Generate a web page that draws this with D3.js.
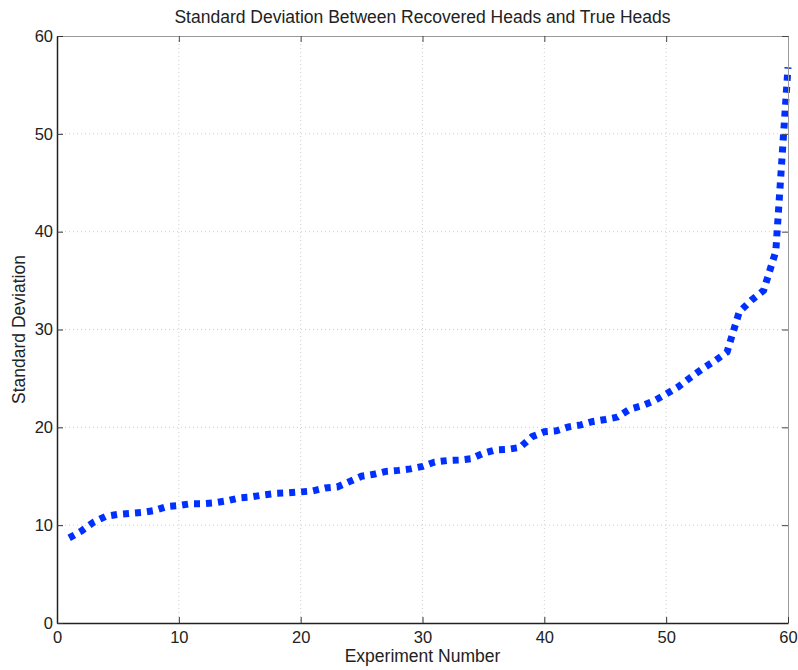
<!DOCTYPE html>
<html>
<head>
<meta charset="utf-8">
<script src="https://cdn.jsdelivr.net/npm/d3@7"></script>
<style>
    body { margin: 0; background: #fff; }
    svg text { font-family: "Liberation Sans", Arial, sans-serif; fill: #222; }
    .grid line { stroke: #cfcfcf; stroke-dasharray: 1,3; }
</style>
</head>
<body>
<div id="graph"></div>
<script>
var consts = {
    width: 798,
    height: 670,
    left: 57,
    right: 788,
    top: 36,
    bottom: 623
};

// experiment numbers 1..60 and the measured std deviation for each
var experiments = [1, 2, 3, 4, 5, 6, 7, 8, 9, 10, 11, 12, 13, 14, 15, 16, 17, 18, 19, 20,
    21, 22, 23, 24, 25, 26, 27, 28, 29, 30, 31, 32, 33, 34, 35, 36, 37, 38, 39, 40,
    41, 42, 43, 44, 45, 46, 47, 48, 49, 50, 51, 52, 53, 54, 55, 56, 57, 58, 59, 60];
var stdDev = [8.7, 9.4, 10.3, 10.9, 11.1, 11.2, 11.3, 11.5, 11.9, 12.0,
    12.2, 12.2, 12.3, 12.5, 12.8, 12.9, 13.1, 13.25, 13.3, 13.4,
    13.5, 13.8, 13.9, 14.45, 15.0, 15.2, 15.5, 15.6, 15.75, 16.0,
    16.45, 16.6, 16.65, 16.8, 17.35, 17.7, 17.75, 17.95, 19.05, 19.55,
    19.65, 20.05, 20.25, 20.6, 20.8, 21.05, 21.85, 22.2, 22.7, 23.4,
    24.15, 25.1, 26.0, 26.8, 27.7, 31.8, 33.0, 34.0, 38.0, 56.8];

var xTicks = [0, 10, 20, 30, 40, 50, 60];
var yTicks = [0, 10, 20, 30, 40, 50, 60];

var title = 'Standard Deviation Between Recovered Heads and True Heads';
var xLabel = 'Experiment Number';
var yLabel = 'Standard Deviation';

var vis = d3.select('#graph').append('svg')
    .attr('width', consts.width)
    .attr('height', consts.height);

var x = d3.scaleLinear().domain([0, 60]).range([consts.left, consts.right]);
var y = d3.scaleLinear().domain([0, 60]).range([consts.bottom, consts.top]);

// dotted grid
var grid = vis.append('g').attr('class', 'grid');
grid.selectAll('.gx')
    .data(xTicks.slice(1, -1))
    .enter().append('line')
    .attr('x1', function (d) { return x(d) })
    .attr('x2', function (d) { return x(d) })
    .attr('y1', consts.top)
    .attr('y2', consts.bottom);
grid.selectAll('.gy')
    .data(yTicks.slice(1, -1))
    .enter().append('line')
    .attr('y1', function (d) { return y(d) })
    .attr('y2', function (d) { return y(d) })
    .attr('x1', consts.left)
    .attr('x2', consts.right);

// the data line
var line = d3.line()
    .x(function (d, i) { return x(experiments[i]) })
    .y(function (d) { return y(d) });

vis.append('path')
    .datum(stdDev)
    .attr('d', line)
    .attr('fill', 'none')
    .attr('stroke', '#0030ff')
    .attr('stroke-width', 7)
    .attr('stroke-dasharray', '6,6');

var plotH = consts.bottom - consts.top;

// box: top/right in grey, ticks pointing inward
var topAxis = vis.append('g')
    .attr('transform', 'translate(0,' + consts.top + ')')
    .call(d3.axisTop(x).tickValues(xTicks).tickSizeInner(-6).tickSizeOuter(0).tickFormat(''));
var rightAxis = vis.append('g')
    .attr('transform', 'translate(' + consts.right + ',0)')
    .call(d3.axisRight(y).tickValues(yTicks).tickSizeInner(-6).tickSizeOuter(0).tickFormat(''));
[topAxis, rightAxis].forEach(function (a) {
    a.select('.domain').attr('stroke', '#999');
    a.selectAll('.tick line').attr('stroke', '#444');
});

var bottomAxis = vis.append('g')
    .attr('transform', 'translate(0,' + consts.bottom + ')')
    .call(d3.axisBottom(x).tickValues(xTicks).tickSizeInner(-6).tickSizeOuter(0).tickPadding(8));
var leftAxis = vis.append('g')
    .attr('transform', 'translate(' + consts.left + ',0)')
    .call(d3.axisLeft(y).tickValues(yTicks).tickSizeInner(-6).tickSizeOuter(0).tickPadding(4));
[bottomAxis, leftAxis].forEach(function (a) {
    a.select('.domain').attr('stroke', '#222').attr('stroke-width', 1.5);
    a.selectAll('.tick line').attr('stroke', '#333');
    a.selectAll('.tick text')
        .attr('font-size', 16.5)
        .attr('font-family', '"Liberation Sans", Arial, sans-serif')
        .attr('fill', '#222');
});

// texts
vis.append('text')
    .attr('x', (consts.left + consts.right) / 2)
    .attr('y', 23)
    .attr('text-anchor', 'middle')
    .attr('font-size', 17.5)
    .text(title);

vis.append('text')
    .attr('x', (consts.left + consts.right) / 2)
    .attr('y', 662)
    .attr('text-anchor', 'middle')
    .attr('font-size', 17.5)
    .text(xLabel);

vis.append('text')
    .attr('transform', 'translate(25,' + (consts.top + plotH / 2) + ') rotate(-90)')
    .attr('text-anchor', 'middle')
    .attr('font-size', 17.5)
    .text(yLabel);
</script>
</body>
</html>
